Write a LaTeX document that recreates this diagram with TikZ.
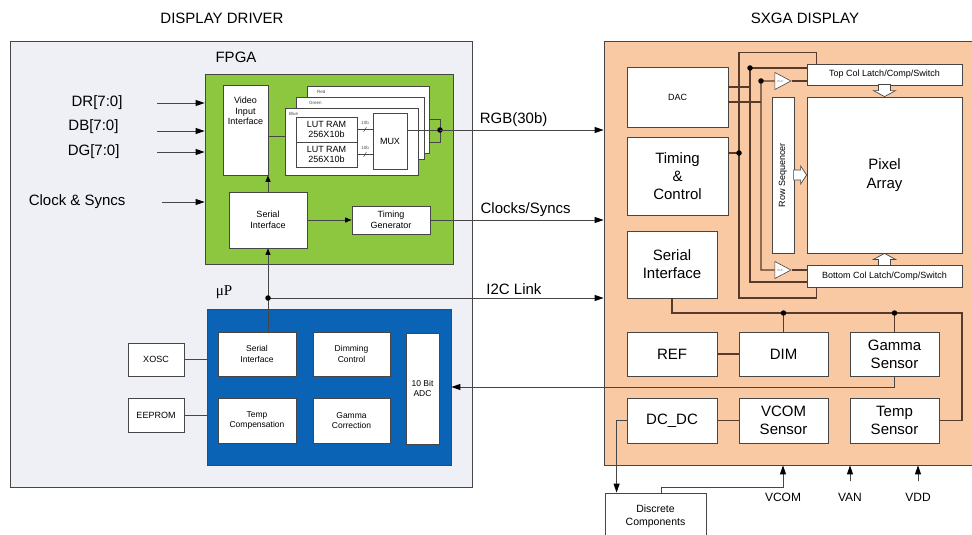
\documentclass[tikz,border=0pt]{standalone}
\usepackage{fontspec}
\setmainfont{Liberation Sans}
\newfontfamily\mpfont{Liberation Serif}
\usetikzlibrary{arrows.meta,positioning,shapes.geometric,calc}
\definecolor{drvgray}{RGB}{238,240,245}
\definecolor{fpgagreen}{RGB}{141,198,63}
\definecolor{mpblue}{RGB}{11,99,182}
\definecolor{disppeach}{RGB}{249,201,163}
\definecolor{wirebrown}{RGB}{88,58,42}
\definecolor{edgegray}{RGB}{70,70,70}

\begin{document}
\begin{tikzpicture}[x=1pt,y=-1pt,
  blk/.style={draw=edgegray,fill=white,line width=0.8pt,inner sep=0pt,align=center},
  bigtxt/.style={font=\fontsize{15}{18}\selectfont},
  smtxt/.style={font=\fontsize{9}{10.5}\selectfont},
  mptxt/.style={font=\fontsize{8.5}{10.5}\selectfont},
  pintxt/.style={font=\fontsize{12}{14}\selectfont},
  pagetxt/.style={font=\fontsize{4.5}{5}\selectfont,text=black!70},
  sig/.style={draw=edgegray,line width=1pt},
  sigarr/.style={sig,-{Triangle[length=9pt,width=6pt,color=black]}},
  smarr/.style={sig,-{Triangle[length=6.5pt,width=5pt,color=black]}},
  wire/.style={draw=wirebrown,line width=1.3pt},
  jdot/.style={circle,fill=black,inner sep=0pt,minimum size=5.5pt},
  hollow/.style={draw=edgegray,fill=white,line width=0.7pt,line join=miter},
  buf/.style={isosceles triangle,isosceles triangle stretches,draw=edgegray,fill=white,
              line width=0.6pt,inner sep=0pt,minimum width=17pt,minimum height=16pt,
              font=\fontsize{3}{3}\selectfont,text=black!50}]
  \useasboundingbox (0,0) rectangle (972,535);

  %% Titles
  \node[bigtxt] (drvtitle) at (222,18) {DISPLAY DRIVER};
  \node[bigtxt] (disptitle) at (805,18) {SXGA DISPLAY};

  %% Display driver and SXGA display
  \node[draw=edgegray,fill=drvgray,line width=0.8pt,
        minimum width=462pt,minimum height=446pt]
        (drv) at (241,264) {};
  \node[bigtxt] (fpgalbl) at (236,57) {FPGA};
  \node[draw=edgegray,fill=disppeach,line width=0.8pt,
        minimum width=372pt,minimum height=424pt]
        (disp) at (790,253) {};

  %% FPGA
  \node[draw=edgegray,fill=fpgagreen,line width=0.8pt,
        minimum width=248pt,minimum height=190pt]
        (fpga) at (329,169) {};
  \node[blk,minimum width=45pt,minimum height=90pt,
        label={[smtxt,align=center,anchor=north,yshift=-9pt]north:Video\\Input\\Interface}]
        (vid) at (245.5,130) {};
  \node[blk,minimum width=122pt,minimum height=67pt,
        label={[pagetxt,anchor=north west,xshift=7pt,yshift=-1pt]north west:Red}]
        (redpg) at (368,119.5) {};
  \node[blk,minimum width=128pt,minimum height=62pt,
        label={[pagetxt,anchor=north west,xshift=10pt,yshift=-1pt]north west:Green}]
        (greenpg) at (360,128) {};
  \node[blk,minimum width=133pt,minimum height=67pt,
        label={[pagetxt,anchor=north west,xshift=1pt,yshift=-1pt]north west:Blue}]
        (bluepg) at (351.5,141.5) {};
  \node[blk,smtxt,minimum width=61pt,minimum height=25pt] (lut1) at (326.5,129.5) {LUT RAM\\256X10b};
  \node[blk,smtxt,minimum width=61pt,minimum height=25pt] (lut2) at (326.5,154.5) {LUT RAM\\256X10b};
  \node[blk,smtxt,minimum width=34pt,minimum height=56pt] (mux) at (390,141) {MUX};
  \node[blk,smtxt,minimum width=78pt,minimum height=56pt] (fser) at (268,220) {Serial\\Interface};
  \node[blk,smtxt,minimum width=78pt,minimum height=28pt] (tgen) at (391,220) {Timing\\Generator};

  %% inputs
  \node[bigtxt,anchor=east] (drlbl) at (126,103) {DR[7:0]};
  \node[bigtxt,anchor=east] (dblbl) at (122,127) {DB[7:0]};
  \node[bigtxt,anchor=east] (dglbl) at (123,152) {DG[7:0]};
  \node[bigtxt,anchor=east] (clklbl) at (129,202) {Clock \& Syncs};
  \coordinate (drin) at (157,103);
  \coordinate (dbin) at (157,131);
  \coordinate (dgin) at (157,152);
  \coordinate (clkin) at (162,202);
  \draw[sigarr] (drin) -- (drin -| fpga.west);
  \draw[sigarr] (dbin) -- (dbin -| fpga.west);
  \draw[sigarr] (dgin) -- (dgin -| fpga.west);
  \draw[sigarr] (clkin) -- (clkin -| fpga.west);

  %% FPGA wiring
  \coordinate (vidout) at ($(vid.east)+(0,6)$);
  \draw[sig] (vidout) -- (vidout -| bluepg.west);
  \draw[sig] (lut1.east) -- (mux.west |- lut1.east) node[midway,above=1pt,pagetxt] {10b};
  \draw[sig] (lut2.east) -- (mux.west |- lut2.east) node[midway,above=1pt,pagetxt] {10b};
  \draw[sig,line width=0.5pt] ($(lut1.east)!0.5!(mux.west |- lut1.east)+(-1.5,2.5)$) -- ++(3,-5);
  \draw[sig,line width=0.5pt] ($(lut2.east)!0.5!(mux.west |- lut2.east)+(-1.5,2.5)$) -- ++(3,-5);
  \coordinate (rgbj) at (440,130);
  \draw[sig] ($(redpg.east |- rgbj)+(0,-11)$) -| ($(rgbj)+(0,12)$) -- ($(redpg.east |- rgbj)+(0,12)$);
  \draw[sig] (mux.east |- rgbj) -- (rgbj);
  \node[jdot] at (rgbj) {};
  \draw[smarr] (fser.north) -- (fser.north |- vid.south);
  \draw[smarr] (fser.east) -- (tgen.west);

  %% links to the display
  \draw[sigarr] (rgbj) -- (rgbj -| disp.west) node[pos=0.45,above,bigtxt] {RGB(30b)};
  \draw[sigarr] (tgen.east) -- (tgen.east -| disp.west) node[pos=0.55,above,bigtxt] {Clocks/Syncs};

  %% uP
  \node[font=\mpfont\fontsize{15}{18}\selectfont] (mplbl) at (224,292) {μP};
  \node[draw=edgegray,fill=mpblue,line width=0.8pt,
        minimum width=244pt,minimum height=156pt]
        (mup) at (329,387) {};
  \node[blk,mptxt,minimum width=78pt,minimum height=44pt] (mser) at (257,354) {Serial\\Interface};
  \node[blk,mptxt,minimum width=77pt,minimum height=44pt] (dimc) at (351.5,354) {Dimming\\Control};
  \node[blk,mptxt,minimum width=78pt,minimum height=45pt] (tcomp) at (257,420.5) {Temp\\Compensation};
  \node[blk,mptxt,minimum width=77pt,minimum height=45pt] (gcorr) at (351.5,420.5) {Gamma\\Correction};
  \node[blk,mptxt,minimum width=33pt,minimum height=111pt] (adc) at (422.5,388.5) {10 Bit\\ADC};
  \node[blk,smtxt,minimum width=56pt,minimum height=33pt] (xosc) at (156,359.5) {XOSC};
  \node[blk,smtxt,minimum width=56pt,minimum height=34pt] (eeprom) at (156,415) {EEPROM};
  \draw[sig] (xosc.east) -- (xosc.east -| mup.west);
  \draw[sig] (eeprom.east) -- (eeprom.east -| mup.west);

  %% I2C
  \coordinate (i2cj) at (268,298);
  \draw[smarr] (i2cj) -- (fser.south);
  \draw[sig] (i2cj) -- (i2cj |- mser.north);
  \draw[sigarr] (i2cj) -- (i2cj -| disp.west) node[pos=0.733,above,bigtxt] {I2C Link};
  \node[jdot] at (i2cj) {};

  %% SXGA display blocks
  \node[blk,smtxt,minimum width=101pt,minimum height=60pt] (dac) at (677.5,97) {DAC};
  \node[blk,bigtxt,minimum width=101pt,minimum height=78pt] (tc) at (677.5,176) {Timing\\\&\\Control};
  \node[blk,bigtxt,minimum width=90pt,minimum height=67pt] (dser) at (672,264.5) {Serial\\Interface};
  \node[blk,smtxt,minimum width=155pt,minimum height=21pt] (topcol) at (884.5,74.5) {Top Col Latch/Comp/Switch};
  \node[blk,font=\fontsize{15}{19}\selectfont,minimum width=155pt,minimum height=156pt] (pix) at (884.5,175) {Pixel\\Array};
  \node[blk,smtxt,rotate=90,minimum width=156pt,minimum height=22pt] (rowseq) at (783,175) {Row Sequencer};
  \node[blk,smtxt,minimum width=155pt,minimum height=22pt] (botcol) at (884.5,276) {Bottom Col Latch/Comp/Switch};
  \node[buf] (buft) at (780.5,81) {BUF};
  \node[buf] (bufb) at (780.5,270) {BUF};
  % hollow arrows into the pixel array
  \draw[hollow] (pix.north) -- ++(-11,-6) -- ++(5,0) -- ++(0,-6) -- ++(12,0) -- ++(0,6) -- ++(5,0) -- cycle;
  \draw[hollow] (pix.south) -- ++(-11,6) -- ++(5,0) -- ++(0,6) -- ++(12,0) -- ++(0,-6) -- ++(5,0) -- cycle;
  \draw[hollow] (pix.west) -- ++(-6,-9) -- ++(0,4) -- ++(-7,0) -- ++(0,10) -- ++(7,0) -- ++(0,4) -- cycle;

  %% column wiring
  \coordinate (loopbl) at (739,298);
  \draw[wire] ($(topcol.north west)+(10,0)$) -- ++(0,-11) -| (loopbl) -| ($(botcol.south west)+(10,0)$);
  \coordinate (tcj) at (739,153);
  \draw[wire] (tcj) -- (tcj -| tc.east);
  \node[jdot] at (tcj) {};
  \coordinate (bj) at (750,68);
  \draw[wire] (topcol.west |- bj) -- (bj) |- ($(botcol.west)+(0,6)$);
  \coordinate (dacup) at ($(dac.east)+(0,-10)$);
  \draw[wire] (dacup) -- (dacup -| bj);
  \node[jdot] at (bj) {};
  \coordinate (cj) at (761,81);
  \draw[wire] (buft.west) -- (cj) |- (bufb.west);
  \draw[wire] (buft.east) -- (topcol.west |- buft.east);
  \draw[wire] (bufb.east) -- (botcol.west |- bufb.east);
  \coordinate (daclo) at ($(dac.east)+(0,5)$);
  \draw[wire] (daclo) -- (daclo -| cj);
  \node[jdot] at (cj) {};

  %% sensors
  \node[blk,bigtxt,minimum width=90pt,minimum height=44pt] (ref) at (672,354) {REF};
  \node[blk,bigtxt,minimum width=89pt,minimum height=44pt] (dim) at (783.5,354) {DIM};
  \node[blk,bigtxt,minimum width=89pt,minimum height=44pt] (gsen) at (894.5,354) {Gamma\\Sensor};
  \node[blk,bigtxt,minimum width=90pt,minimum height=45pt] (dcdc) at (672,420.5) {DC\_DC};
  \node[blk,bigtxt,minimum width=89pt,minimum height=45pt] (vcom) at (783.5,420.5) {VCOM\\Sensor};
  \node[blk,bigtxt,minimum width=89pt,minimum height=45pt] (tsen) at (894.5,420.5) {Temp\\Sensor};
  \coordinate (busr) at (962,313);
  \draw[wire] (dser.south) |- (busr) |- (tsen.east);
  \draw[wire] (dim.north) -- (dim.north |- busr);
  \draw[wire] (gsen.north) -- (gsen.north |- busr);
  \node[jdot] at (dim.north |- busr) {};
  \node[jdot] at (gsen.north |- busr) {};
  \draw[wire] (ref.east) -- (dim.west);
  \draw[wire] (dcdc.east) -- (vcom.west);
  \draw[sigarr] (gsen.south) |- (mup.east);

  %% supplies and discrete parts
  \node[blk,font=\fontsize{10.5}{12.5}\selectfont,minimum width=101pt,minimum height=47pt]
        (disc) at (655.5,516.5) {Discrete\\Components};
  \node[pintxt] (vcompin) at (783,497) {VCOM};
  \node[pintxt] (vanpin) at (850,497) {VAN};
  \node[pintxt] (vddpin) at (918,497) {VDD};
  \draw[sigarr] (dcdc.west) -| ($(disc.north west)+(12,0)$);
  \draw[sigarr] ($(disc.north)+(5.5,0)$) -- ++(0,-5) -| (vcompin.north |- disp.south);
  \draw[sigarr] ([yshift=8pt]vanpin.north) -- (vanpin.north |- disp.south);
  \draw[sigarr] ([yshift=8pt]vddpin.north) -- (vddpin.north |- disp.south);
\end{tikzpicture}
\end{document}
